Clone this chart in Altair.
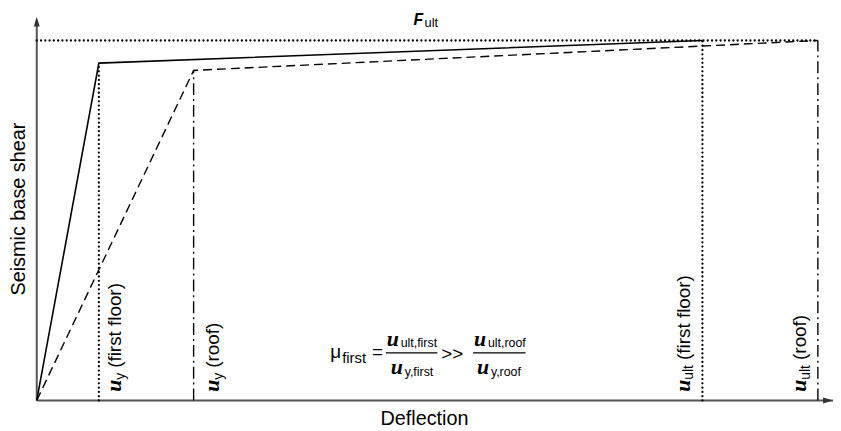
import altair as alt
import pandas as pd

# ---------------- data ----------------
point_names = ["origin", "yield", "ultimate"]
first_floor_x = [0.0, 7.8, 83.6]
first_floor_y = [0.0, 87.9, 93.8]
roof_x = [0.0, 19.7, 98.1]
roof_y = [0.0, 86.0, 93.8]
f_ult = 93.8

marker_keys = ["uy_first", "uy_roof", "uult_first", "uult_roof"]
marker_x = [7.8, 19.7, 83.6, 98.1]
marker_top = [87.9, 86.0, 93.8, 93.8]
marker_sub = ["y", "y", "ult", "ult"]
marker_text = ["(first floor)", "(roof)", "(first floor)", "(roof)"]
marker_kind = ["dotted", "dashdot", "dotted", "dashdot"]

# ---------------- layout / style ----------------
W, H = 803, 387
PAD = {"left": 29, "top": 7, "right": 0, "bottom": 26}
SANS = "Liberation Sans"
SERIF = "Liberation Serif"
DOT = [0.01, 4.3]
DASH = [9, 5]
DASHDOT = [12, 4, 2, 4]

xscale = alt.Scale(domain=[0, 100], nice=False, zero=False)
yscale = alt.Scale(domain=[0, 100], nice=False, zero=False)


def X(f):
    return alt.X(f, type="quantitative", scale=xscale, axis=None)


def Y(f):
    return alt.Y(f, type="quantitative", scale=yscale, axis=None)


one = alt.Data(values=[{"k": 1}])
layers = []

# axes
layers.append(alt.Chart(one).mark_rule(color="#555", strokeWidth=2).encode(
    x=alt.datum(0, scale=xscale, axis=None), y=alt.datum(0, scale=yscale, axis=None),
    x2=alt.datum(100)))
layers.append(alt.Chart(one).mark_rule(color="#555", strokeWidth=2).encode(
    x=alt.datum(0, scale=xscale, axis=None), y=alt.datum(0, scale=yscale, axis=None),
    y2=alt.datum(99)))
layers.append(alt.Chart(one).mark_point(
    shape="M0,0 L0.6,2 L-0.6,2 Z", filled=True, size=100, color="#333", opacity=1,
    strokeWidth=0).encode(x=alt.datum(0, scale=xscale, axis=None),
                          y=alt.datum(100, scale=yscale, axis=None)))
layers.append(alt.Chart(one).mark_point(
    shape="M0,0 L-2,-0.6 L-2,0.6 Z", filled=True, size=100, color="#333", opacity=1,
    strokeWidth=0).encode(x=alt.datum(100, scale=xscale, axis=None),
                          y=alt.datum(0, scale=yscale, axis=None)))

# F_ult level
fult_df = pd.DataFrame({"x": [0.0, roof_x[-1]], "y": [f_ult, f_ult]})
layers.append(alt.Chart(fult_df).mark_line(
    color="black", strokeWidth=2.3, strokeDash=DOT, strokeCap="round").encode(
    x=X("x"), y=Y("y")))

# capacity curves
first_df = pd.DataFrame({"x": first_floor_x, "y": first_floor_y, "p": point_names})
roof_df = pd.DataFrame({"x": roof_x, "y": roof_y, "p": point_names})
layers.append(alt.Chart(first_df).mark_line(color="black", strokeWidth=1.6).encode(
    x=X("x"), y=Y("y"), order="x:Q"))
layers.append(alt.Chart(roof_df).mark_line(color="black", strokeWidth=1.4, strokeDash=DASH).encode(
    x=X("x"), y=Y("y"), order="x:Q"))

# vertical markers
mk = pd.DataFrame({"key": marker_keys, "x": marker_x, "top": marker_top,
                   "kind": marker_kind, "zero": [0.0] * 4})
layers.append(alt.Chart(mk).transform_filter("datum.kind == 'dotted'").mark_rule(
    color="black", strokeWidth=2.3, strokeDash=DOT, strokeCap="round").encode(
    x=X("x"), y=Y("zero"), y2="top"))
layers.append(alt.Chart(mk).transform_filter("datum.kind == 'dashdot'").mark_rule(
    color="black", strokeWidth=1.4, strokeDash=DASHDOT).encode(x=X("x"), y=Y("zero"), y2="top"))

# rotated labels at the markers
label_offset = [22, 25.5, -13, -11.5]
sub_width = {"y": 7, "ult": 15}
for i in range(4):
    enc = dict(x=alt.datum(marker_x[i], scale=xscale, axis=None),
               y=alt.datum(2.3, scale=yscale, axis=None))
    off = label_offset[i]
    layers.append(alt.Chart(one).mark_text(
        angle=270, align="left", baseline="alphabetic", font=SERIF, fontStyle="italic",
        fontWeight="bold", fontSize=22, dy=off, color="black").encode(text=alt.value("u"), **enc))
    layers.append(alt.Chart(one).mark_text(
        angle=270, align="left", baseline="alphabetic", font=SANS, fontSize=14,
        dx=12, dy=off + 4, color="black").encode(text=alt.value(marker_sub[i]), **enc))
    layers.append(alt.Chart(one).mark_text(
        angle=270, align="left", baseline="alphabetic", font=SANS, fontSize=19,
        dx=12 + sub_width[marker_sub[i]] + 5, dy=off, color="black").encode(
        text=alt.value(marker_text[i]), **enc))


def ptext(s, px, py, font=SANS, size=19, style="normal", weight="normal", align="left", angle=0):
    return alt.Chart(one).mark_text(
        align=align, baseline="alphabetic", font=font, fontSize=size, fontStyle=style,
        fontWeight=weight, angle=angle, color="black").encode(
        text=alt.value(s), x=alt.value(px - 37), y=alt.value(py - 15))


def bar(x1, x2, py):
    return alt.Chart(one).mark_rule(color="black", strokeWidth=1.3).encode(
        x=alt.value(x1 - 37), x2=alt.value(x2 - 37), y=alt.value(py - 15))


# axis titles
layers.append(ptext("Seismic base shear", 25, 209, size=20, align="center", angle=270))
layers.append(ptext("Deflection", 428, 427, size=20, align="center"))

# F_ult
layers.append(ptext("F", 417, 23, size=16, style="italic", weight="bold"))
layers.append(ptext("ult", 428, 25, size=13))

# ductility formula
layers += [
    ptext("\u03bc", 333, 359, size=19),
    ptext("first", 345, 364, size=15),
    ptext("=", 375, 359, size=19),
    ptext("u", 390, 347, font=SERIF, size=22, style="italic", weight="bold"),
    ptext("ult,first", 404, 348, size=12.5),
    bar(389, 441, 354),
    ptext("u", 394, 375, font=SERIF, size=22, style="italic", weight="bold"),
    ptext("y,first", 408, 377, size=12.5),
    ptext(">>", 445, 361, size=19),
    ptext("u", 478, 347, font=SERIF, size=22, style="italic", weight="bold"),
    ptext("ult,roof", 492, 348, size=12.5),
    bar(477, 530, 354),
    ptext("u", 481, 375, font=SERIF, size=22, style="italic", weight="bold"),
    ptext("y,roof", 495, 377, size=12.5),
]

chart = alt.layer(*layers).properties(
    width=W, height=H, padding=PAD, background="white",
    autosize=alt.AutoSizeParams(type="none"),
).configure_view(stroke=None)

chart.save("out.html", embed_options={"renderer": "svg", "actions": False})
